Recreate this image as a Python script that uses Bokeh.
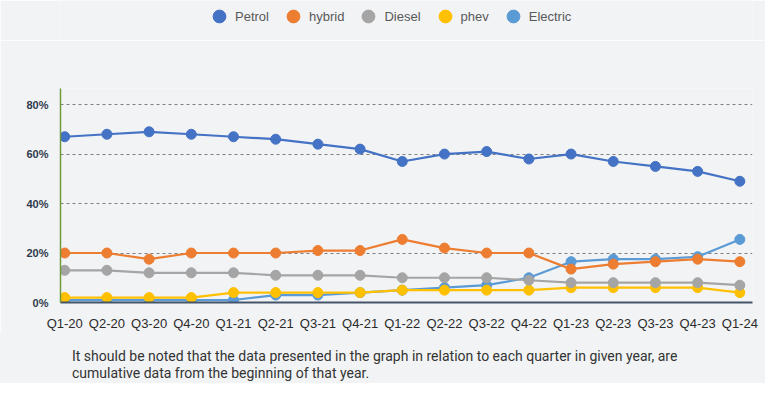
from bokeh.plotting import figure
from bokeh.layouts import column
from bokeh.models import (ColumnDataSource, Legend, LegendItem, FixedTicker, Range1d, Div)
from bokeh.embed import file_html
from bokeh.resources import INLINE

quarters = ["Q1-20", "Q2-20", "Q3-20", "Q4-20", "Q1-21", "Q2-21", "Q3-21", "Q4-21",
            "Q1-22", "Q2-22", "Q3-22", "Q4-22", "Q1-23", "Q2-23", "Q3-23", "Q4-23", "Q1-24"]
petrol   = [67, 68, 69, 68, 67, 66, 64, 62, 57, 60, 61, 58, 60, 57, 55, 53, 49]
hybrid   = [20, 20, 17.5, 20, 20, 20, 21, 21, 25.5, 22, 20, 20, 13.5, 15.5, 16.5, 17.5, 16.5]
diesel   = [13, 13, 12, 12, 12, 11, 11, 11, 10, 10, 10, 9, 8, 8, 8, 8, 7]
phev     = [2, 2, 2, 2, 4, 4, 4, 4, 5, 5, 5, 5, 6, 6, 6, 6, 4]
electric = [1, 1, 1, 1, 1, 3, 3, 4, 5, 6, 7, 10, 16.5, 17.5, 17.5, 18.5, 25.5]
y_ticks = [0, 20, 40, 60, 80]
caption = ["It should be noted that the data presented in the graph in relation to each quarter in given year, are",
           "cumulative data from the beginning of that year."]

series = [("Petrol", petrol, "#4472C4"), ("hybrid", hybrid, "#ED7D31"),
          ("Diesel", diesel, "#A5A5A5"), ("phev", phev, "#FFC000"),
          ("Electric", electric, "#5B9BD5")]

xs = list(range(len(quarters)))
BG = "#F2F3F5"
W = 765

# --- legend strip (legend renderers hold the series' first points, outside the visible range) ---
lf = figure(width=W, height=40, output_backend="svg", toolbar_location=None,
            x_range=Range1d(100, 101), y_range=Range1d(100, 101),
            x_axis_location=None, y_axis_location=None,
            min_border_left=0, min_border_right=0, min_border_top=0, min_border_bottom=0,
            background_fill_color=BG, border_fill_color=BG, outline_line_color=None)
lf.grid.visible = False
items = []
for name, vals, col in series:
    r = lf.scatter(x=xs[:1], y=vals[:1], size=13, fill_color=col, line_color=col)
    items.append(LegendItem(label=name, renderers=[r]))
legend = Legend(items=items, orientation="horizontal", location=(143, 8),
                background_fill_alpha=0, border_line_color=None,
                label_text_font="Liberation Sans", label_text_font_size="13px",
                label_text_color="#595959", glyph_width=32, glyph_height=32,
                label_standoff=0, spacing=8, padding=0, margin=0)
lf.add_layout(legend)

# --- main chart ---
p = figure(width=W, height=293, output_backend="svg", toolbar_location=None,
           x_range=Range1d(-0.1, 16.3), y_range=Range1d(0, 86.5),
           min_border_left=60, min_border_right=13, min_border_top=48, min_border_bottom=27,
           background_fill_color=BG, border_fill_color=BG, outline_line_color=None)

for name, vals, col in reversed(series):
    src = ColumnDataSource(dict(x=xs, y=vals))
    p.line("x", "y", source=src, line_color=col, line_width=2.2)
    p.scatter("x", "y", source=src, size=10, fill_color=col, line_color=col)

p.xaxis.ticker = FixedTicker(ticks=xs)
p.xaxis.major_label_overrides = {i: q for i, q in enumerate(quarters)}
p.xaxis.major_label_text_font = "Liberation Sans"
p.xaxis.major_label_text_font_size = "13px"
p.xaxis.major_label_text_color = "#2b2b2b"
p.xaxis.major_tick_line_color = None
p.xaxis.minor_tick_line_color = None
p.xaxis.axis_line_color = "#44546A"
p.xaxis.axis_line_width = 2
p.xaxis.major_label_standoff = 7

p.yaxis.ticker = FixedTicker(ticks=y_ticks)
p.yaxis.major_label_overrides = {t: f"{t}%" for t in y_ticks}
p.yaxis.major_label_text_font = "Liberation Sans"
p.yaxis.major_label_text_font_size = "11px"
p.yaxis.major_label_text_font_style = "bold"
p.yaxis.major_label_text_color = "#2F3B4C"
p.yaxis.major_tick_line_color = None
p.yaxis.minor_tick_line_color = None
p.yaxis.axis_line_color = "#6E9A3C"
p.yaxis.axis_line_width = 1.5
p.yaxis.major_label_standoff = 6

p.xgrid.grid_line_color = None
p.ygrid.grid_line_color = "#7F7F7F"
p.ygrid.grid_line_dash = "3 3"
p.ygrid.grid_line_width = 1

# --- caption ---
cap = Div(text="<br>".join(caption), width=W, height=50,
          styles={"background-color": BG, "font-family": "Roboto", "font-size": "14px",
                  "line-height": "17px", "color": "#333333", "padding-top": "15px",
                  "padding-left": "72px", "box-sizing": "border-box", "margin": "0",
                  "width": f"{W}px", "height": "50px"})

layout = column(lf, p, cap, spacing=0)
open("out.html", "w").write(file_html(layout, INLINE))
